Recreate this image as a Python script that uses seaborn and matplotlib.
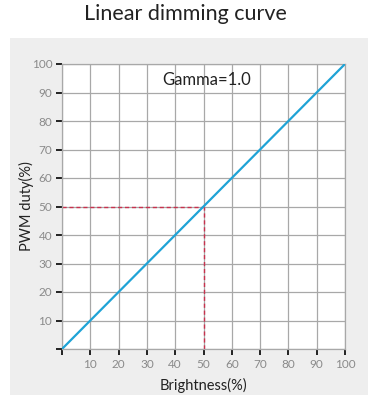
import matplotlib
matplotlib.use('Agg')
import matplotlib.pyplot as plt
import seaborn as sns
import pandas as pd
from matplotlib.patches import Rectangle

# Дані
brightness = [0, 100]
pwm_duty = [0, 100]
point_x = 50
point_y = 50
ticks = [0, 10, 20, 30, 40, 50, 60, 70, 80, 90, 100]
tick_labels = [''] + [str(t) for t in ticks[1:]]

sns.set_style('white')
plt.rcParams['font.family'] = ['Lato', 'DejaVu Sans']

fig = plt.figure(figsize=(3.71, 4.05), dpi=100)
fig.patch.set_facecolor('white')
fig.patches.append(Rectangle((10 / 371, 10 / 405), 358 / 371, 357 / 405,
                             transform=fig.transFigure, facecolor='#eeeeee',
                             edgecolor='none', zorder=-5))

ax = fig.add_axes([62 / 371, 56 / 405, 283 / 371, 285 / 405])
ax.set_zorder(2)
ax.set_facecolor('white')

data = pd.DataFrame({'Brightness': brightness, 'PWM': pwm_duty})
sns.lineplot(data=data, x='Brightness', y='PWM', ax=ax, color='#1fa3d6', linewidth=1.6, zorder=3)

# пунктир до точки 50/50
ax.plot([0, point_x], [point_y, point_y], color='#c8324e', linestyle=(0, (3, 2)), linewidth=1, zorder=2)
ax.plot([point_x, point_x], [0, point_y], color='#c8324e', linestyle=(0, (3, 2)), linewidth=1, zorder=2)

ax.set_xlim(0, 100)
ax.set_ylim(0, 100)
ax.set_xticks(ticks)
ax.set_yticks(ticks)
ax.set_xticklabels(tick_labels)
ax.set_yticklabels(tick_labels)
ax.grid(True, color='#a8a8a8', linewidth=0.9)
ax.tick_params(axis='both', length=4, width=1.2, color='black', labelcolor='#8a8a8a',
               labelsize=8.5, direction='out', left=True, bottom=True, pad=3)
for s in ax.spines.values():
    s.set_color('#a8a8a8')
    s.set_linewidth(0.9)

ax.set_xlabel('Brightness(%)', fontsize=10.5, color='#222222', labelpad=6)
ax.set_ylabel('PWM duty(%)', fontsize=10.5, color='#222222', labelpad=-2)
ax.text(0.51, 0.945, 'Gamma=1.0', transform=ax.transAxes, ha='center', va='center',
        fontsize=12, color='#222222')

fig.text(0.5, 1 - 14 / 405, 'Linear dimming curve', ha='center', va='center',
         fontsize=15.5, color='#222222')

fig.savefig('out.png', dpi=100)
